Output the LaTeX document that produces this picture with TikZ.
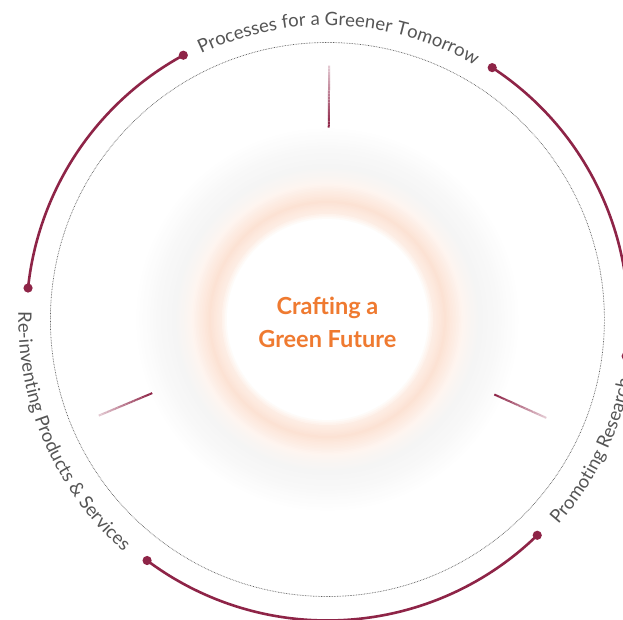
\documentclass[tikz,border=0pt]{standalone}
\usepackage{fontspec}
\setmainfont{Lato}
\newfontfamily\curvefont{Lato}
\usetikzlibrary{decorations.text}
\definecolor{arcred}{HTML}{8E2447}
\definecolor{orangetxt}{HTML}{EF7A30}
\definecolor{peach}{HTML}{F6A679}
\definecolor{txtgray}{HTML}{555555}
\definecolor{dotgray}{HTML}{606060}
\colorlet{g0}{white}
\colorlet{g1}{peach!20}
\colorlet{g2}{peach!32}
\colorlet{g3}{peach!11}
\colorlet{g4}{black!4}
\colorlet{g5}{black!2.5}
\colorlet{g6}{white}
\tikzset{
  arcline/.style={draw=arcred, line width=2.6pt},
  arcdot/.style={fill=arcred},
  dotcircle/.style={draw=dotgray, line width=0.7pt, dash pattern=on 0.7pt off 0.9pt},
  curvetext/.style={decorate, decoration={text along path, text align=center, text color=txtgray, text={#1}}},
  centertext/.style={text=orangetxt, font=\bfseries\fontsize{23.5}{33}\selectfont, align=center}
}
\begin{document}
\begin{tikzpicture}[x=1pt,y=1pt]
\useasboundingbox (-327.4,-300.5) rectangle (295.6,319.5);
\fill[white] (-327.4,-300.5) rectangle (295.6,319.5);
% glow rings
\foreach \ra/\ca/\rb/\cb in {100/g0/107/g1, 107/g1/118/g2, 118/g2/136/g3, 136/g3/152/g4, 152/g4/172/g5, 172/g5/192/g6} {
  \pgfmathsetmacro\n{int((\rb-\ra)/1.5)}
  \foreach \k in {0,...,\n} {
    \pgfmathsetmacro\t{100*\k/\n}
    \pgfmathsetmacro\rr{\ra+(\rb-\ra)*\k/\n}
    \draw[line width=2.2pt, \cb!\t!\ca] (0,0) circle (\rr);
  }
}
% dotted circle
\draw[dotcircle] (0,0) circle (277);
% ticks
\foreach \a/\ri/\ro in {89.6/192/254, 202.8/190/248, -24.2/183/240} {
  \foreach \i in {0,...,19} {
    \pgfmathsetmacro\p{100-75*\i/19}
    \draw[line width=2pt, arcred!\p!white] (\a:{\ri+(\ro-\ri)*\i/20}) -- (\a:{\ri+(\ro-\ri)*(\i+1)/20});
  }
}
% arcs
\coordinate (l1) at (118.6:301); \coordinate (l2) at (174:301);
\coordinate (r1) at (56.8:301);  \coordinate (r2) at (-7:301);
\coordinate (b1) at (233.2:301); \coordinate (b2) at (314.2:301);
\draw[arcline] (l1) arc[start angle=118.6, end angle=174, radius=301];
\draw[arcline] (r1) arc[start angle=56.8, end angle=-7, radius=301];
\draw[arcline] (b1) arc[start angle=233.2, end angle=314.2, radius=301];
\foreach \c in {l1,l2,r1,r2,b1,b2} { \fill[arcdot] (\c) circle (4.6); }
% curved labels
\path[curvetext={|\curvefont\fontsize{18.5}{18.5}\selectfont|Processes for a Greener Tomorrow}]
  (118.6:294) arc[start angle=118.6, end angle=56.8, radius=294];
\path[curvetext={|\curvefont\fontsize{18.5}{18.5}\selectfont|Re-inventing Products {\&} Services}]
  (174:309) arc[start angle=174, end angle=233.2, radius=309];
\path[curvetext={|\curvefont\fontsize{18.5}{18.5}\selectfont|Promoting Research}]
  (-45.8:309) arc[start angle=-45.8, end angle=-7, radius=309];
% center
\node[centertext] (center) at (0,-3) {Crafting a\\Green Future};
\end{tikzpicture}
\end{document}
